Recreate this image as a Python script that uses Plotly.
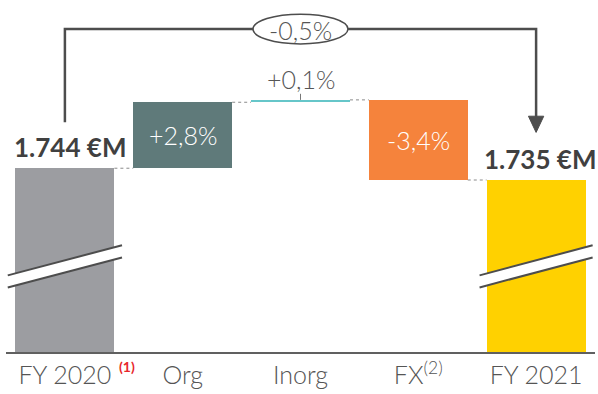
import plotly.graph_objects as go

# ---- data ----
categories = ["FY 2020", "Org", "Inorg", "FX<sup>(2)</sup>", "FY 2021"]
start_total = 1744.0          # €M
pct_changes = [2.8, 0.1, -3.4]  # % of FY2020
end_total = 1735.0            # €M
total_change_label = "-0,5%"
start_label = "1.744 €M"
end_label = "1.735 €M"
change_labels = ["+2,8%", "+0,1%", "-3,4%"]
footnote1 = "(1)"

colors = ["#9c9da1", "#5f7a7a", "#66c6c9", "#f5833c", "#ffd100"]
TXT = "#555555"
DARK = "#404040"
LINE = "#4d4d4d"
FONT = "Lato"

# ---- waterfall computation ----
deltas = [start_total * p / 100 for p in pct_changes]
bases, heights = [], []
bases.append(0); heights.append(start_total)
run = start_total
levels = [start_total]
for d in deltas:
    bases.append(run); heights.append(d)
    run += d
    levels.append(run)
bases.append(0); heights.append(end_total)
levels.append(end_total)

xs = list(range(len(categories)))
W = 0.84
YMIN, YMAX = 1608.0, 1868.5

fig = go.Figure()
fig.add_trace(go.Bar(x=xs, y=heights, base=bases, width=W,
                     marker=dict(color=colors, line=dict(width=0)),
                     hoverinfo="skip"))

shapes = []
annotations = []

# dotted connectors
conn_levels = [start_total, levels[1], levels[2], levels[3]]
for i, lv in enumerate(conn_levels):
    shapes.append(dict(type="line", xref="x", yref="y",
                       x0=i + W / 2, x1=i + 1 - W / 2, y0=lv, y1=lv,
                       line=dict(color="#8a8a8a", width=1, dash="dot")))

# small tick on Inorg
shapes.append(dict(type="line", xref="x", yref="y", x0=2, x1=2,
                   y0=levels[2], y1=levels[2] + 4.5,
                   line=dict(color="#777777", width=1)))

# axis break marks on totals
for xc in (0, 4):
    xa, xb = xc - 0.485, xc + 0.485
    if xc == 4:
        xa, xb = xc - 0.48, xc + 0.48
    y_lo_a, y_lo_b = 1655.8, 1678.0
    y_hi_a, y_hi_b = 1664.7, 1687.0
    shapes.append(dict(type="path", xref="x", yref="y",
                       path=f"M {xa},{y_lo_a} L {xb},{y_lo_b} L {xb},{y_hi_b} L {xa},{y_hi_a} Z",
                       fillcolor="white", line=dict(width=0)))
    for ya, yb in ((y_lo_a, y_lo_b), (y_hi_a, y_hi_b)):
        shapes.append(dict(type="line", xref="x", yref="y", x0=xa, x1=xb, y0=ya, y1=yb,
                           line=dict(color=LINE, width=2)))

# bracket with ellipse and arrow
BY = 1847.0
ELL_HALF = 0.403
shapes.append(dict(type="path", xref="x", yref="y",
                   path=f"M 0,{1778} L 0,{BY} L {2 - ELL_HALF},{BY}",
                   line=dict(color=LINE, width=2.5)))
shapes.append(dict(type="path", xref="x", yref="y",
                   path=f"M {2 + ELL_HALF},{BY} L 4,{BY} L 4,{1782}",
                   line=dict(color=LINE, width=2.5)))
shapes.append(dict(type="path", xref="x", yref="y",
                   path=f"M {4 - 0.065},{1782.5} L {4 + 0.065},{1782.5} L 4,{1770.5} Z",
                   fillcolor=LINE, line=dict(color=LINE, width=1)))
shapes.append(dict(type="circle", xref="x", yref="y",
                   x0=2 - ELL_HALF, x1=2 + ELL_HALF, y0=1836.0, y1=1858.0,
                   fillcolor="white", line=dict(color=LINE, width=1.5)))
annotations.append(dict(x=2, y=BY, xref="x", yref="y", text=total_change_label,
                        showarrow=False, font=dict(family=FONT, size=25, color=TXT, weight=300),
                        yshift=-1))

# totals labels
annotations.append(dict(x=0, y=start_total, xref="x", yref="y", text=f"<b>{start_label}</b>",
                        showarrow=False, yanchor="middle", yshift=21, xshift=5,
                        font=dict(family=FONT, size=26, color=DARK)))
annotations.append(dict(x=4, y=end_total, xref="x", yref="y", text=f"<b>{end_label}</b>",
                        showarrow=False, yanchor="middle", yshift=21, xshift=4,
                        font=dict(family=FONT, size=26, color=DARK)))

# change labels
annotations.append(dict(x=1, y=(levels[0] + levels[1]) / 2, xref="x", yref="y",
                        text=change_labels[0], showarrow=False,
                        font=dict(family=FONT, size=25, color="white", weight=300)))
annotations.append(dict(x=2, y=levels[2], xref="x", yref="y",
                        text=change_labels[1], showarrow=False, yanchor="middle", yshift=21,
                        font=dict(family=FONT, size=25, color=TXT, weight=300)))
annotations.append(dict(x=3, y=(levels[2] + levels[3]) / 2, xref="x", yref="y",
                        text=change_labels[2], showarrow=False,
                        font=dict(family=FONT, size=25, color="white", weight=300)))

# footnote (1) next to FY 2020
annotations.append(dict(x=0.44, y=0, xref="x", yref="paper", text=f"<b>{footnote1}</b>",
                        showarrow=False, xanchor="left", yanchor="top", yshift=-4,
                        font=dict(family=FONT, size=14, color="#e8262b")))

fig.update_layout(
    width=598, height=394,
    margin=dict(l=6, r=3, t=0, b=42),
    paper_bgcolor="white", plot_bgcolor="white",
    showlegend=False,
    bargap=0,
    shapes=shapes, annotations=annotations,
    xaxis=dict(range=[-0.5, 4.5], tickvals=xs, ticktext=categories,
               showgrid=False, zeroline=False, showline=True, linecolor="#606060", linewidth=2,
               ticks="", tickfont=dict(family=FONT, size=25, color=TXT, weight=300),
               fixedrange=True),
    yaxis=dict(range=[YMIN, YMAX], visible=False, fixedrange=True),
)

fig.write_html("out.html", config={"displayModeBar": False})
